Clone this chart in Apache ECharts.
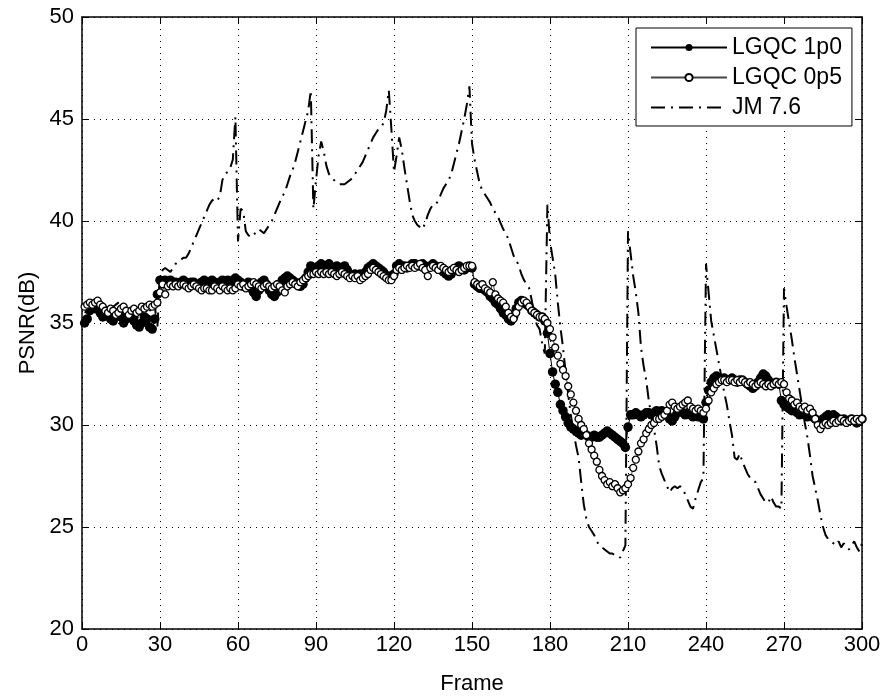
<!DOCTYPE html>
<html>
<head>
<meta charset="utf-8">
<script src="https://cdn.jsdelivr.net/npm/echarts@6/dist/echarts.min.js"></script>
<style>
  html, body { margin: 0; padding: 0; background: #fff; }
  #chart { width: 889px; height: 700px; }
</style>
</head>
<body>
<div id="chart"></div>
<script>
// PSNR per frame, frames 1..300
const lgqc1p0 = [
  35.0, 35.2, 35.6, 35.8, 35.7, 35.8, 35.5, 35.3, 35.6, 35.5,
  35.2, 35.1, 35.4, 35.5, 35.3, 35.0, 35.2, 35.5, 35.4, 35.1,
  34.9, 34.8, 35.0, 35.3, 35.2, 34.8, 34.7, 35.2, 36.4, 37.1,
  37.0, 37.1, 37.0, 37.1, 37.0, 37.0, 36.9, 37.0, 37.1, 37.0,
  36.9, 37.0, 37.0, 36.9, 36.8, 37.0, 37.1, 37.0, 36.9, 37.1,
  37.0, 36.9, 37.0, 37.1, 37.0, 37.1, 37.0, 37.1, 37.2, 37.1,
  37.0, 36.8, 36.9, 37.0, 36.7, 36.5, 36.3, 36.6, 37.0, 37.1,
  36.9, 36.6, 36.4, 36.3, 36.5, 36.8, 37.1, 37.2, 37.3, 37.2,
  37.1, 37.0, 36.9, 36.8, 36.9, 37.2, 37.5, 37.8, 37.7, 37.6,
  37.8, 37.9, 37.7, 37.8, 37.9, 37.7, 37.6, 37.8, 37.7, 37.6,
  37.8, 37.6, 37.4, 37.3, 37.4, 37.3, 37.4, 37.3, 37.5, 37.7,
  37.8, 37.9, 37.8, 37.7, 37.6, 37.5, 37.3, 37.3, 37.2, 37.4,
  37.8, 37.9, 37.8, 37.8, 37.7, 37.8, 37.9, 37.9, 37.8, 37.8,
  37.9, 37.8, 37.7, 37.8, 37.9, 37.8, 37.7, 37.6, 37.5, 37.4,
  37.3, 37.4, 37.6, 37.7, 37.8, 37.7, 37.6, 37.7, 37.8, 37.7,
  36.9, 36.8, 36.7, 36.7, 36.6, 36.5, 36.3, 36.2, 36.0, 35.9,
  35.7, 35.5, 35.4, 35.2, 35.1, 35.3, 35.7, 36.0, 36.1, 36.0,
  35.9, 35.8, 35.6, 35.5, 35.4, 35.3, 35.3, 35.1, 34.5, 33.5,
  32.6, 32.0, 31.6, 31.0, 30.7, 30.4, 30.1, 29.9, 29.8, 29.7,
  29.6, 29.5, 29.6, 29.5, 29.4, 29.4, 29.5, 29.4, 29.4, 29.5,
  29.6, 29.7, 29.6, 29.5, 29.4, 29.3, 29.2, 29.1, 28.9, 29.9,
  30.5, 30.5, 30.6, 30.5, 30.4, 30.5, 30.6, 30.6, 30.5, 30.6,
  30.7, 30.6, 30.7, 30.6, 30.5, 30.3, 30.2, 30.4, 30.6, 30.7,
  30.6, 30.5, 30.6, 30.5, 30.4, 30.5, 30.4, 30.4, 30.3, 31.1,
  31.7, 32.1, 32.3, 32.4, 32.3, 32.2, 32.3, 32.2, 32.2, 32.3,
  32.2, 32.1, 32.2, 32.2, 32.1, 32.0, 31.9, 31.8, 31.9, 32.1,
  32.3, 32.5, 32.4, 32.2, 32.0, 32.0, 32.1, 32.0, 31.2, 31.0,
  30.9, 30.8, 30.7, 30.8, 30.6, 30.5, 30.6, 30.5, 30.4, 30.5,
  30.4, 30.3, 30.2, 30.1, 30.3, 30.4, 30.5, 30.4, 30.5, 30.4,
  30.3, 30.2, 30.3, 30.2, 30.2, 30.3, 30.2, 30.1, 30.2, 30.3
];
const lgqc0p5 = [
  35.8, 35.9, 36.0, 35.9, 36.0, 36.1, 35.9, 35.8, 35.6, 35.5,
  35.7, 35.6, 35.4, 35.5, 35.7, 35.8, 35.6, 35.4, 35.6, 35.7,
  35.5, 35.6, 35.8, 35.7, 35.8, 35.9, 35.8, 35.9, 36.0, 36.5,
  36.9, 36.4, 36.8, 36.9, 36.8, 36.9, 36.8, 36.9, 36.9, 36.8,
  36.7, 36.8, 36.9, 36.8, 36.7, 36.6, 36.7, 36.7, 36.6, 36.6,
  36.8, 36.7, 36.6, 36.8, 36.7, 36.6, 36.7, 36.6, 36.7, 36.9,
  36.8, 36.9, 36.7, 36.8, 36.9, 37.0, 36.9, 36.8, 36.7, 36.8,
  36.9, 36.8, 36.7, 36.8, 36.9, 36.8, 36.6, 36.5, 36.8, 36.9,
  37.0, 36.9, 36.8, 37.0, 37.1, 37.2, 37.3, 37.4, 37.4, 37.5,
  37.4, 37.5, 37.4, 37.5, 37.4, 37.5, 37.4, 37.3, 37.4, 37.5,
  37.4, 37.3, 37.2, 37.3, 37.2, 37.3, 37.1, 37.2, 37.3, 37.4,
  37.6, 37.7, 37.6, 37.5, 37.4, 37.3, 37.2, 37.1, 37.1, 37.3,
  37.6, 37.7, 37.6, 37.7, 37.8, 37.7, 37.8, 37.7, 37.8, 37.9,
  37.7, 37.6, 37.3, 37.7, 37.8, 37.7, 37.6, 37.8, 37.7, 37.6,
  37.5, 37.6, 37.7, 37.6, 37.5, 37.6, 37.7, 37.8, 37.8, 37.8,
  37.0, 36.9, 36.8, 36.9, 36.7, 36.6, 36.5, 37.0, 36.4, 36.2,
  36.1, 36.0, 35.8, 35.5, 35.3, 35.2, 35.5, 35.8, 36.0, 36.1,
  36.0, 35.8, 35.6, 35.5, 35.4, 35.3, 35.3, 35.2, 35.0, 34.7,
  34.3, 33.8, 33.4, 33.0, 32.7, 32.4, 31.9, 31.5, 31.1, 30.7,
  30.3, 30.0, 29.8, 29.5, 29.1, 28.8, 28.5, 28.2, 27.8, 27.5,
  27.3, 27.1, 27.2, 27.0, 27.1, 26.9, 26.7, 26.8, 26.9, 27.1,
  27.4, 27.9, 28.3, 28.7, 29.1, 29.3, 29.6, 29.8, 30.0, 30.1,
  30.3, 30.3, 30.4, 30.5, 30.7, 31.0, 31.1, 30.9, 30.8, 30.9,
  31.0, 31.1, 31.2, 30.9, 30.8, 30.7, 30.8, 30.7, 30.6, 30.8,
  31.2, 31.6, 31.8, 32.0, 32.1, 32.2, 32.2, 32.1, 32.2, 32.2,
  32.1, 32.2, 32.1, 32.2, 32.1, 32.0, 32.1, 32.0, 31.9, 32.0,
  32.1, 32.0, 31.9, 32.0, 31.9, 32.0, 32.1, 32.0, 32.1, 32.0,
  31.6, 31.3, 31.2, 31.0, 31.1, 30.9, 30.8, 30.9, 30.7, 30.8,
  30.6, 30.3, 30.0, 29.8, 30.0, 30.1, 30.0, 30.1, 30.2, 30.1,
  30.2, 30.3, 30.2, 30.1, 30.2, 30.3, 30.2, 30.3, 30.2, 30.3
];
const jm76 = [
  35.5, 35.6, 35.7, 35.8, 35.8, 35.7, 35.6, 35.5, 35.5, 35.6,
  35.7, 35.8, 35.9, 36.0, 36.1, 35.9, 35.7, 35.6, 35.5, 35.4,
  35.3, 35.2, 35.3, 35.4, 35.5, 35.6, 35.7, 35.8, 34.8, 37.3,
  37.6, 37.7, 37.6, 37.5, 37.7, 37.9, 38.0, 38.1, 38.2, 38.2,
  38.4, 38.7, 39.0, 39.3, 39.6, 39.9, 40.2, 40.5, 40.8, 41.0,
  41.1, 41.0, 41.2, 42.0, 42.3, 42.4, 42.6, 43.0, 45.1, 39.0,
  40.6, 40.5, 39.5, 39.3, 39.2, 39.3, 39.5, 39.6, 39.5, 39.4,
  39.6, 39.8, 40.0, 40.3, 40.6, 40.9, 41.2, 41.4, 41.8, 42.2,
  42.5, 42.9, 43.4, 43.9, 44.4, 44.9, 45.4, 46.4, 40.6, 42.0,
  43.2, 43.9, 43.4, 42.7, 42.3, 42.1, 42.0, 41.9, 41.8, 41.8,
  41.8, 41.9, 42.0, 42.1, 42.3, 42.5, 42.7, 42.9, 43.2, 43.5,
  43.8, 44.1, 44.3, 44.5, 44.6, 44.8, 45.4, 46.4, 44.5, 42.4,
  43.2, 44.1, 43.5, 42.6, 41.8, 41.0, 40.3, 40.0, 39.8, 39.7,
  39.6, 39.9, 40.3, 40.6, 40.8, 40.8, 41.0, 41.3, 41.6, 41.8,
  42.0, 42.3, 42.8, 43.3, 43.8, 44.4, 45.0, 45.7, 46.6, 43.8,
  43.0, 42.4, 41.8, 41.5, 41.3, 41.1, 40.9, 40.6, 40.4, 40.2,
  39.9, 39.6, 39.4, 39.1, 38.7, 38.3, 38.1, 37.8, 37.4, 37.1,
  36.9, 36.7, 36.1, 35.3, 34.9, 34.7, 34.0, 33.5, 40.8, 39.0,
  38.2, 37.4, 36.0, 34.8, 33.8, 32.6, 31.5, 30.5, 29.7, 29.0,
  28.4, 27.2, 26.1, 25.4, 25.0, 24.8, 24.6, 24.3, 24.1, 24.0,
  23.9, 23.8, 23.7, 23.7, 23.6, 23.6, 23.5, 23.8, 24.1, 39.5,
  38.4, 37.3, 36.5, 35.5, 33.8, 32.9, 32.2, 31.2, 30.4, 29.8,
  29.0, 28.0, 27.6, 27.3, 27.0, 26.7, 26.9, 27.0, 26.9, 27.0,
  26.9, 26.6, 26.3, 26.0, 25.9, 26.4, 26.8, 27.2, 27.4, 37.9,
  36.5, 35.1, 34.4, 33.7, 33.0, 32.3, 31.6, 31.0, 30.2, 29.5,
  28.4, 28.3, 28.6, 28.2, 27.9, 27.6, 27.4, 27.3, 27.2, 26.9,
  26.6, 26.4, 26.2, 26.2, 26.5, 26.2, 26.0, 26.0, 25.9, 36.7,
  35.8, 35.0, 34.2, 33.3, 32.5, 31.7, 30.9, 30.1, 29.4, 28.5,
  27.5, 26.9, 26.3, 25.6, 25.0, 24.6, 24.4, 24.3, 24.2, 24.1,
  24.3, 24.0, 24.2, 24.0, 23.9, 24.1, 24.3, 24.0, 23.8, 24.2
];
const frames = lgqc1p0.map((v, i) => i + 1);
const seriesNames = ['LGQC 1p0', 'LGQC 0p5', 'JM 7.6'];

const FONT = '"Liberation Sans", Arial, Helvetica, sans-serif';

function pairs(values) {
  return values.map((v, i) => [frames[i], v]);
}

const chart = echarts.init(document.getElementById('chart'), null, { renderer: 'canvas' });

const baseAxis = {
  axisLine: { show: true, onZero: false, lineStyle: { color: '#000', width: 1.5 } },
  axisTick: { show: true, inside: true, length: 7, lineStyle: { color: '#000', width: 1 } },
};

chart.setOption({
  animation: false,
  backgroundColor: '#fff',
  textStyle: { fontFamily: FONT },
  grid: { left: 82, right: 27, top: 17, bottom: 67 },
  legend: {
    orient: 'vertical',
    left: 636, top: 28,
    padding: [8, 10, 7, 14],
    itemGap: 7,
    itemWidth: 76, itemHeight: 9,
    backgroundColor: '#fff',
    borderColor: '#000', borderWidth: 1, borderRadius: 0,
    textStyle: { fontSize: 23, color: '#000', fontFamily: FONT },
    data: [
      { name: seriesNames[0] },
      { name: seriesNames[1] },
      { name: seriesNames[2], itemStyle: { opacity: 0 } }
    ]
  },
  xAxis: [
    Object.assign({}, baseAxis, {
      type: 'value', min: 0, max: 300, interval: 30, position: 'bottom',
      name: 'Frame', nameLocation: 'middle', nameGap: 44,
      nameTextStyle: { fontSize: 22, color: '#000', fontFamily: FONT },
      axisLabel: { color: '#000', fontSize: 22, margin: 5, fontFamily: FONT },
      splitLine: { show: true, lineStyle: { color: '#000', width: 1, type: [1, 5] } }
    }),
    Object.assign({}, baseAxis, {
      type: 'value', min: 0, max: 300, interval: 30, position: 'top',
      axisLabel: { show: false }, splitLine: { show: false }
    })
  ],
  yAxis: [
    Object.assign({}, baseAxis, {
      type: 'value', min: 20, max: 50, interval: 5, position: 'left',
      name: 'PSNR(dB)', nameLocation: 'middle', nameGap: 43,
      nameTextStyle: { fontSize: 22, color: '#000', fontFamily: FONT },
      axisLabel: { color: '#000', fontSize: 22, margin: 8, fontFamily: FONT },
      splitLine: { show: true, lineStyle: { color: '#000', width: 1, type: [1, 5] } }
    }),
    Object.assign({}, baseAxis, {
      type: 'value', min: 20, max: 50, interval: 5, position: 'right',
      axisLabel: { show: false }, splitLine: { show: false }
    })
  ],
  series: [
    {
      name: seriesNames[0], type: 'line', data: pairs(lgqc1p0),
      symbol: 'circle', symbolSize: 9.5, showSymbol: true,
      lineStyle: { color: '#000', width: 1 },
      itemStyle: { color: '#000' }
    },
    {
      name: seriesNames[1], type: 'line', data: pairs(lgqc0p5),
      symbol: 'circle', symbolSize: 7, showSymbol: true,
      lineStyle: { color: '#444', width: 1 },
      itemStyle: { color: '#fff', borderColor: '#000', borderWidth: 1.3 }
    },
    {
      name: seriesNames[2], type: 'line', data: pairs(jm76),
      symbol: 'none', z: 3,
      lineStyle: { color: '#000', width: 2, type: [14, 6, 2, 6] },
      itemStyle: { color: '#000' }
    }
  ]
});
</script>
</body>
</html>
